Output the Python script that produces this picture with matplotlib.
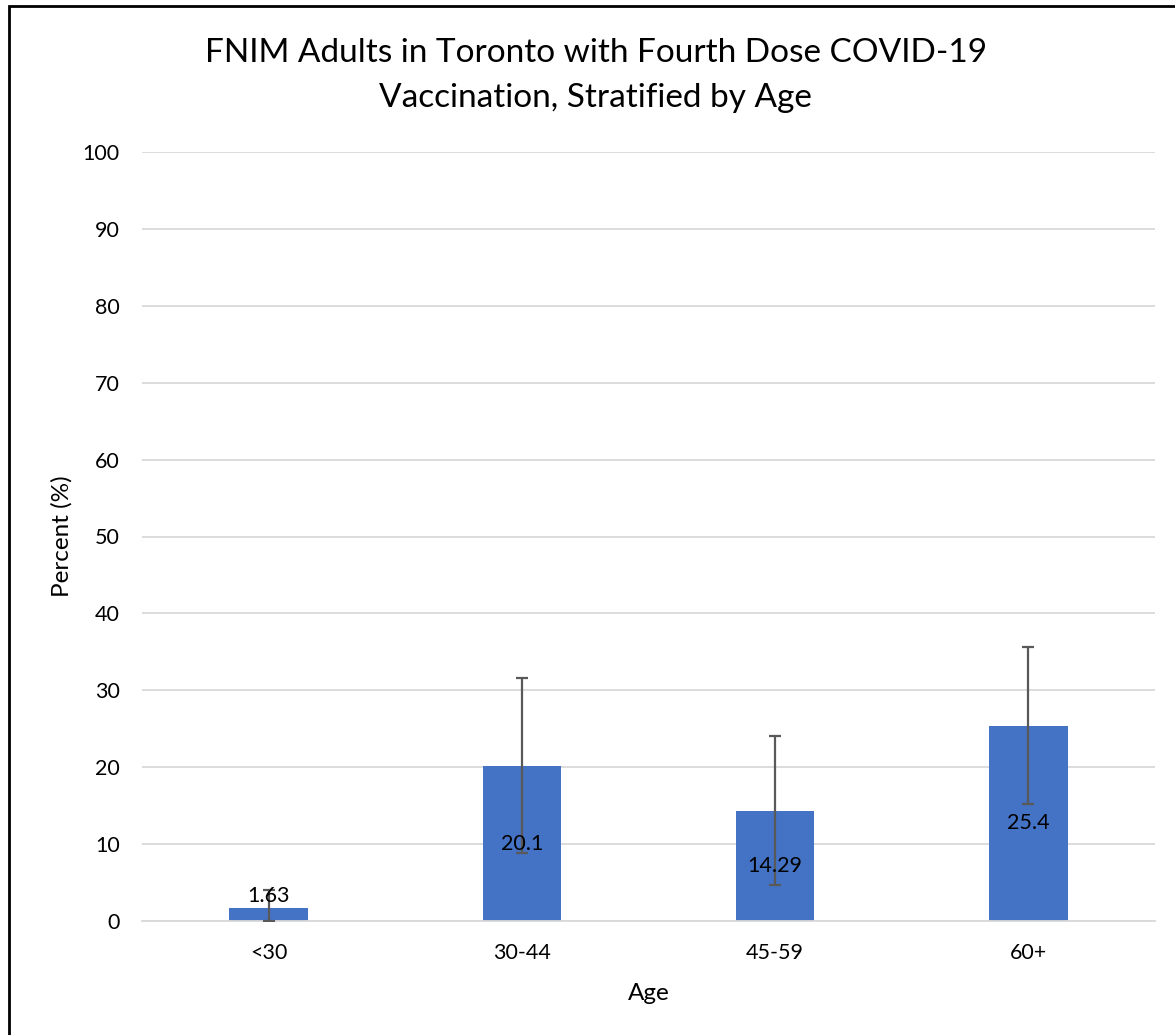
import matplotlib.pyplot as plt
from matplotlib.patches import Rectangle

plt.rcParams['font.family'] = ['Lato', 'DejaVu Sans']

ages = ['<30', '30-44', '45-59', '60+']
percent = [1.63, 20.1, 14.29, 25.4]
ci_low = [0.0, 8.8, 4.7, 15.2]
ci_high = [4.0, 31.6, 24.0, 35.6]

err_lo = [p - lo for p, lo in zip(percent, ci_low)]
err_hi = [hi - p for p, hi in zip(percent, ci_high)]

fig = plt.figure(figsize=(11.75, 10.35), dpi=100)
ax = fig.add_axes([142 / 1175, 114 / 1035, 1013 / 1175, 769 / 1035])

x = range(len(ages))
ax.bar(x, percent, width=0.31, color='#4472C4', zorder=2)
ax.errorbar(x, percent, yerr=[err_lo, err_hi], fmt='none', ecolor='#595959',
            elinewidth=1.6, capsize=4.5, capthick=1.6, zorder=3)

# labels in the middle of the bar, small bars get it just above
for i, v in enumerate(percent):
    ypos = v / 2 if v > 5 else v + 1.6
    ax.text(i, ypos, f'{v:g}', ha='center', va='center', fontsize=15.5, color='black', zorder=4)

ax.set_xlim(-0.5, 3.5)
ax.set_ylim(0, 100)
ax.set_yticks(range(0, 101, 10))
ax.set_xticks(list(x))
ax.set_xticklabels(ages)
ax.yaxis.grid(True, color='#d9d9d9', linewidth=1.3, zorder=0)
ax.set_axisbelow(True)
for s in ['top', 'right', 'left']:
    ax.spines[s].set_visible(False)
ax.spines['bottom'].set_color('#d9d9d9')
ax.spines['bottom'].set_linewidth(1.3)
ax.tick_params(axis='both', length=0, labelsize=15.5)
ax.tick_params(axis='y', pad=16)
ax.tick_params(axis='x', pad=16)

ax.set_ylabel('Percent (%)', fontsize=17.5, labelpad=7)
ax.set_xlabel('Age', fontsize=17.5, labelpad=14)

fig.text(0.507, 1 - 53 / 1035, 'FNIM Adults in Toronto with Fourth Dose COVID-19',
         ha='center', va='center', fontsize=24)
fig.text(0.507, 1 - 98 / 1035, 'Vaccination, Stratified by Age',
         ha='center', va='center', fontsize=24)

fig.patches.append(Rectangle((9 / 1175, -0.02), 1.0, 1.02 - 6 / 1035, transform=fig.transFigure,
                             fill=False, edgecolor='black', linewidth=2, zorder=10))

fig.savefig('out.png', dpi=100)
